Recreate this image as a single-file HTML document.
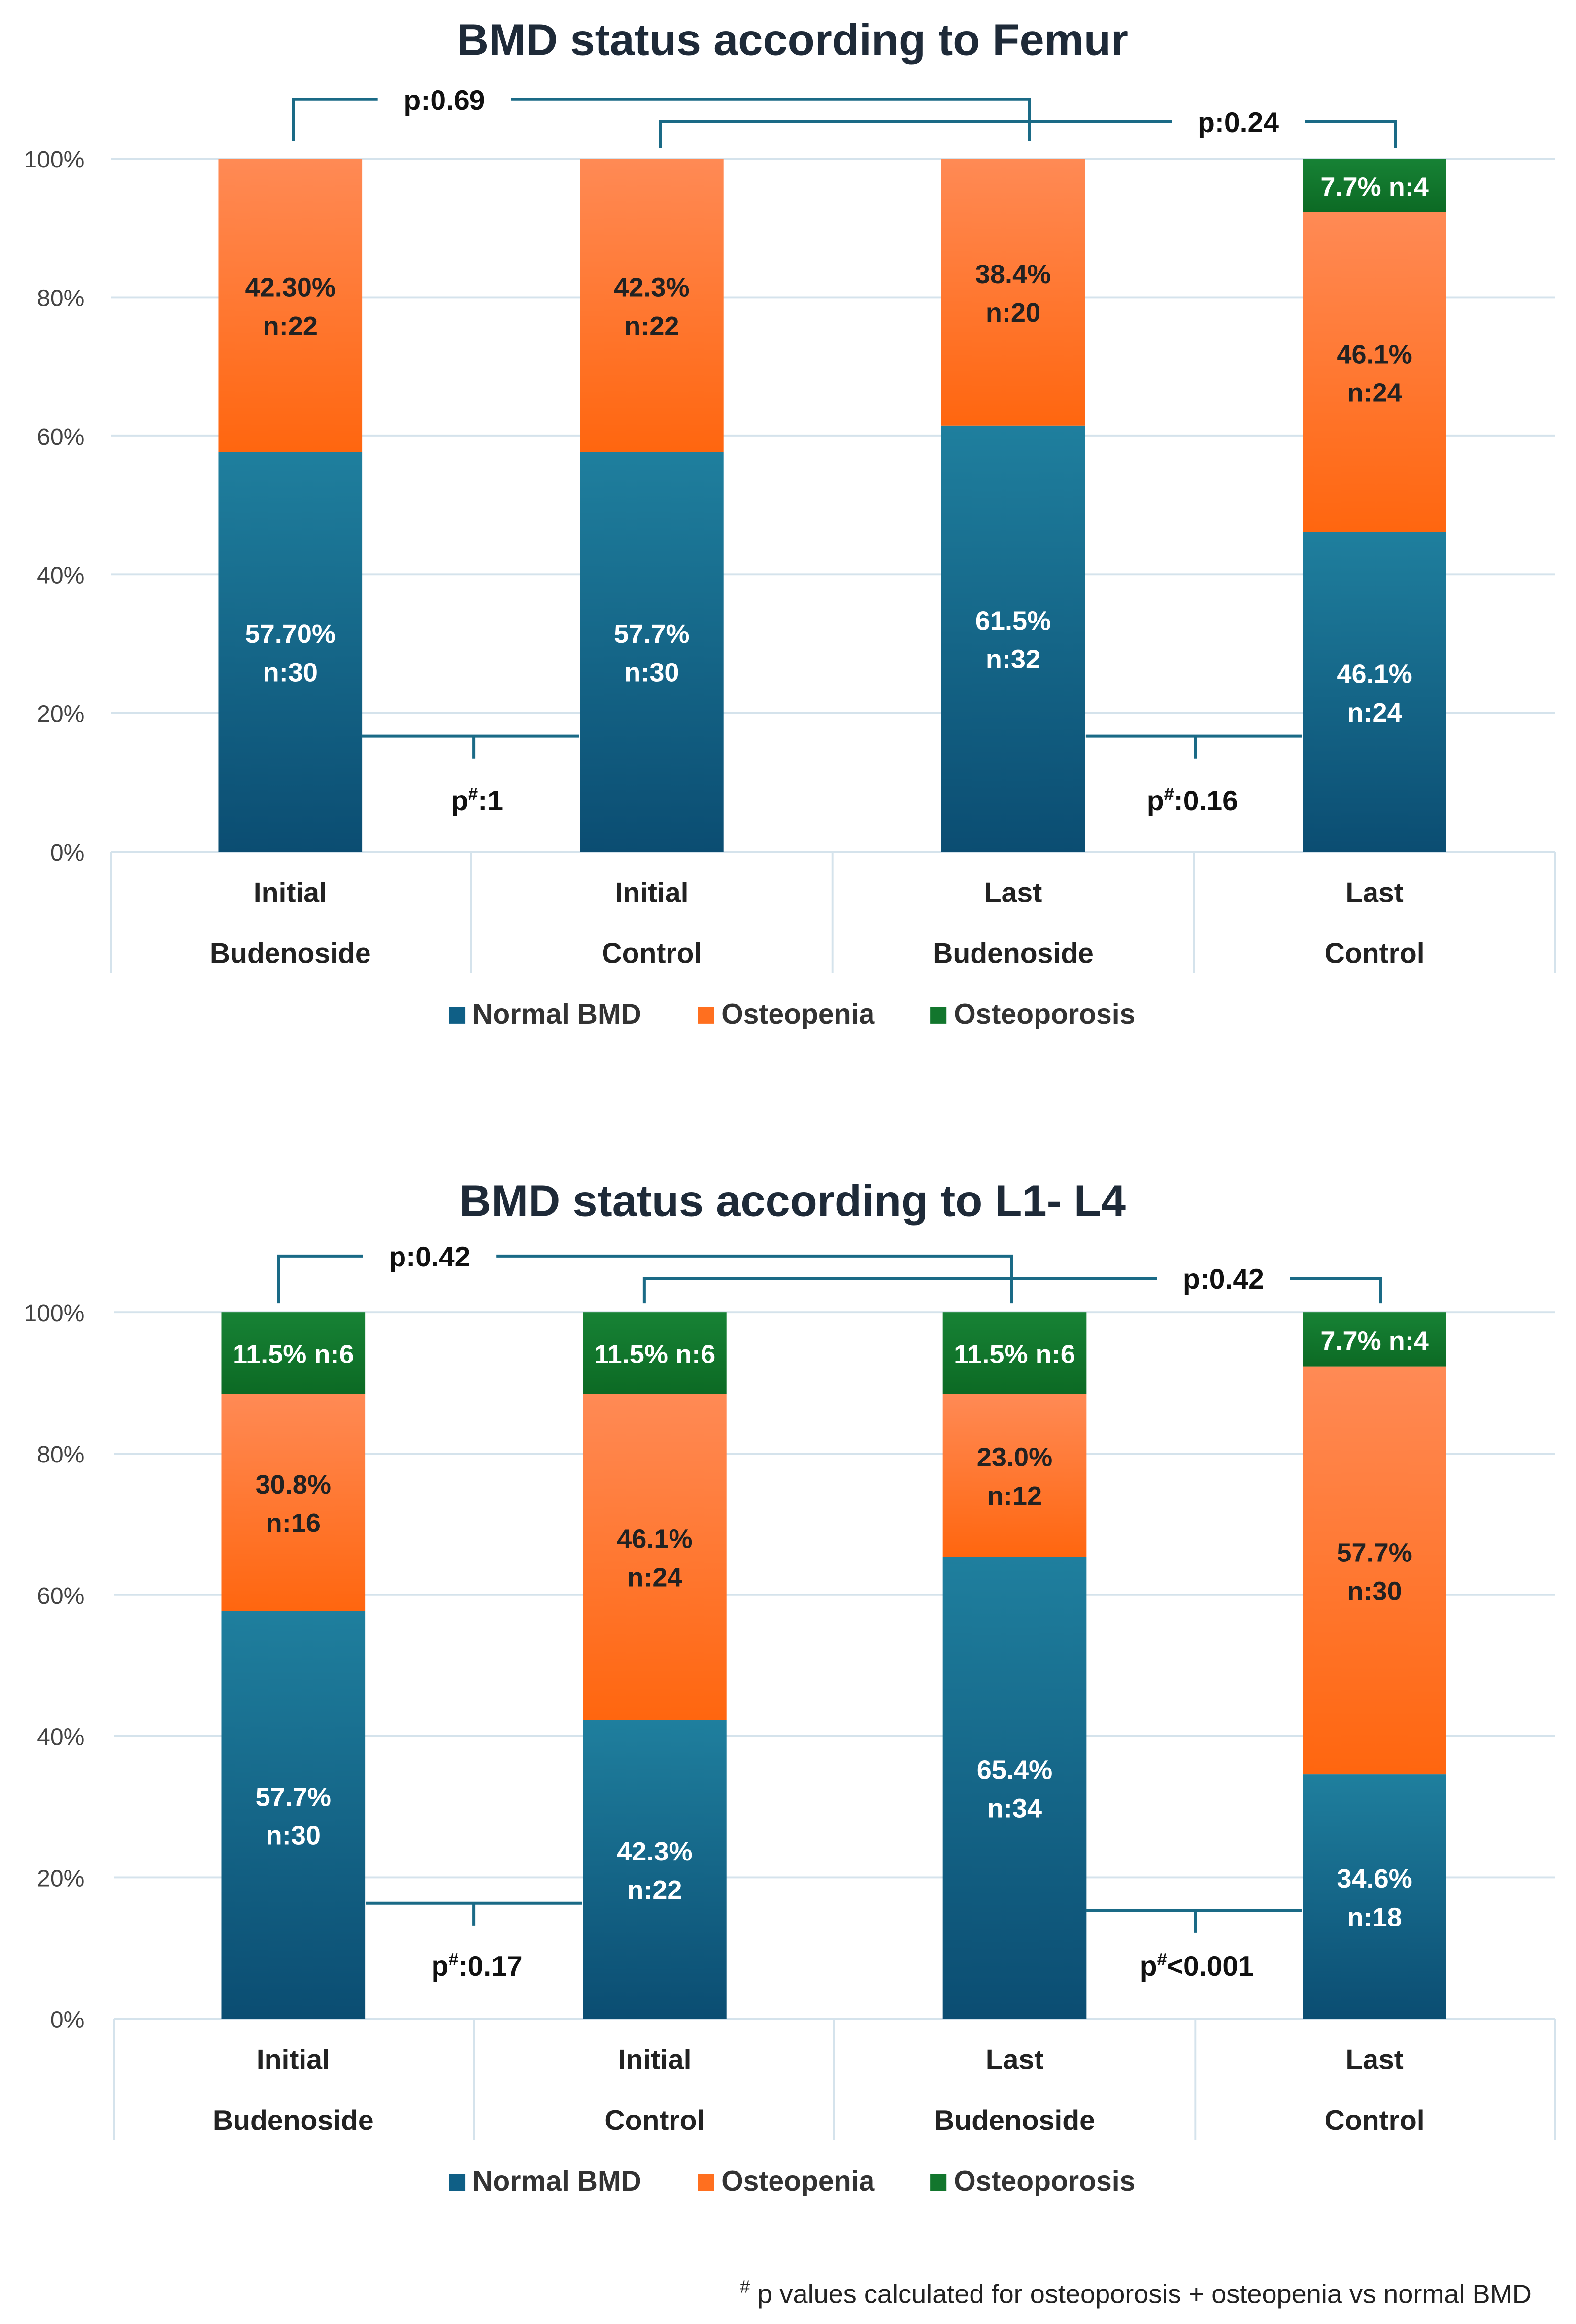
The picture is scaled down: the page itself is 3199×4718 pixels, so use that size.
<!DOCTYPE html>
<html><head><meta charset="utf-8"><style>
html,body{margin:0;padding:0;background:#fff}
svg{display:block}
text{font-family:"Liberation Sans","DejaVu Sans",sans-serif}
</style></head><body>
<svg id="root" width="3199" height="4718" viewBox="0 0 1064 1569" xmlns="http://www.w3.org/2000/svg">
<defs>
<linearGradient id="gBlue" x1="0" y1="0" x2="0" y2="1"><stop offset="0" stop-color="#1f7f9e"/><stop offset="1" stop-color="#0b4d72"/></linearGradient>
<linearGradient id="gOrange" x1="0" y1="0" x2="0" y2="1"><stop offset="0" stop-color="#ff8a55"/><stop offset="1" stop-color="#ff660f"/></linearGradient>
<linearGradient id="gGreen" x1="0" y1="0" x2="0" y2="1"><stop offset="0" stop-color="#178235"/><stop offset="1" stop-color="#0c6a24"/></linearGradient>
</defs>
</svg>
<script>
const categoriesTop = ["Initial","Initial","Last","Last"];
const categoriesBottom = ["Budenoside","Control","Budenoside","Control"];
const yTicks = [0,20,40,60,80,100];
const femurNormal = [57.7,57.7,61.5,46.1];
const femurOsteopenia = [42.3,42.3,38.5,46.2];
const femurOsteoporosis = [0,0,0,7.7];
const femurNormalLabels = [["57.70%","n:30"],["57.7%","n:30"],["61.5%","n:32"],["46.1%","n:24"]];
const femurOsteopeniaLabels = [["42.30%","n:22"],["42.3%","n:22"],["38.4%","n:20"],["46.1%","n:24"]];
const femurOsteoporosisLabels = ["","","","7.7% n:4"];
const lumbarNormal = [57.7,42.3,65.4,34.6];
const lumbarOsteopenia = [30.8,46.2,23.1,57.7];
const lumbarOsteoporosis = [11.5,11.5,11.5,7.7];
const lumbarNormalLabels = [["57.7%","n:30"],["42.3%","n:22"],["65.4%","n:34"],["34.6%","n:18"]];
const lumbarOsteopeniaLabels = [["30.8%","n:16"],["46.1%","n:24"],["23.0%","n:12"],["57.7%","n:30"]];
const lumbarOsteoporosisLabels = ["11.5% n:6","11.5% n:6","11.5% n:6","7.7% n:4"];

const NS="http://www.w3.org/2000/svg";
const root=document.getElementById('root');
function el(tag,attrs,parent,txt){const e=document.createElementNS(NS,tag);for(const k in attrs)e.setAttribute(k,attrs[k]);if(txt!==undefined)e.textContent=txt;(parent||root).appendChild(e);return e;}

function drawChart(o){
  const g=el('g',{});
  
  
  const y=v=>o.y0-(o.y0-o.y100)*v/100;
  const t=el('text',{x:535,y:o.titleY,'text-anchor':'middle','font-size':30,'font-weight':'bold',fill:'#1e2a38'},g,o.title);
  
  
  yTicks.forEach(v=>{
    const l=el('line',{x1:o.xL,x2:1050,y1:y(v),y2:y(v),stroke:'#d5e3ec','stroke-width':1.3},g);
    
    
    const tx=el('text',{x:57,y:y(v)+6,'text-anchor':'end','font-size':16,fill:'#444'},g,v+'%');
    
    
  });
  o.vlines.forEach(x=>{const l=el('line',{x1:x,x2:x,y1:o.y0,y2:o.y0+82,stroke:'#d5e3ec','stroke-width':1.3},g);
    
    });
  const bw=97;
  o.centers.forEach((cx,i)=>{
    const segs=[[o.normal[i],'url(#gBlue)',o.nl[i],'#fff'],[o.osteo[i],'url(#gOrange)',o.ol[i],'#222'],[o.poro[i],'url(#gGreen)',[o.pl[i]],'#fff']];
    let acc=0;
    const names=['bar-normal-bmd','bar-osteopenia','bar-osteoporosis'];
    segs.forEach((s,k)=>{
      if(s[0]<=0)return;
      const top=Math.min(100,acc+s[0]);
      const r=el('rect',{x:cx-bw/2,y:y(top),width:bw,height:y(acc)-y(top),fill:s[1]},g);
      
      
      const mid=(y(acc)+y(top))/2;
      const lines=s[2].filter(a=>a);
      lines.forEach((ln,j)=>{
        const yy=mid+7+(j-(lines.length-1)/2)*26;
        const lt=el('text',{x:cx,y:yy,'text-anchor':'middle','font-size':18,'font-weight':'bold',fill:s[3]},g,ln);
        
        
      });
      acc=top;
    });
    const c1=el('text',{x:cx,y:o.y0+34,'text-anchor':'middle','font-size':19,'font-weight':'bold',fill:'#222'},g,categoriesTop[i]);
    
    
    const c2=el('text',{x:cx,y:o.y0+75,'text-anchor':'middle','font-size':19,'font-weight':'bold',fill:'#222'},g,categoriesBottom[i]);
    
    
  });
  const lg=el('g',{},g);
  
  
  [[303,'#0f5f86','Normal BMD'],[471,'#ff6f1f','Osteopenia'],[628,'#12762d','Osteoporosis']].forEach(a=>{
    const it=el('g',{},lg);
    
    
    el('rect',{x:a[0],y:o.legY-11,width:11,height:11,fill:a[1]},it);
    el('text',{x:a[0]+16,y:o.legY,'font-size':19,'font-weight':'bold',fill:'#333'},it,a[2]);
  });
  const bc='#1a6a86';
  o.topBr.forEach(b=>{
    const p=el('path',{d:`M${b.x1},${b.y2} V${b.y1} H${b.tx-45} M${b.tx+45},${b.y1} H${b.x2} V${b.y2}`,fill:'none',stroke:bc,'stroke-width':2},g);
    
    
    const tt=el('text',{x:b.tx,y:b.y1+7,'text-anchor':'middle','font-size':19,'font-weight':'bold',fill:'#111'},g,b.label);
    
    
  });
  o.botBr.forEach(b=>{
    const p=el('path',{d:`M${b.x1},${b.y} H${b.x2} M${b.xm},${b.y} V${b.y+15}`,fill:'none',stroke:bc,'stroke-width':2},g);
    
    
    const tt=el('text',{x:b.tx,y:b.ty,'text-anchor':'middle','font-size':19,'font-weight':'bold',fill:'#111'},g);
    
    
    el('tspan',{},tt,'p');el('tspan',{dy:-7,'font-size':12},tt,'#');el('tspan',{dy:7},tt,b.label);
  });
}

drawChart({name:'femur-chart',title:'BMD status  according to Femur',titleY:37,y0:575,y100:107,xL:75,
  vlines:[75,318,562,806,1050],centers:[196,440,684,928],
  normal:femurNormal,osteo:femurOsteopenia,poro:femurOsteoporosis,
  nl:femurNormalLabels,ol:femurOsteopeniaLabels,pl:femurOsteoporosisLabels,legY:691,
  topBr:[{x1:198,x2:695,y1:67,y2:95,tx:300,label:'p:0.69'},{x1:446,x2:942,y1:82,y2:100,tx:836,label:'p:0.24'}],
  botBr:[{x1:244,x2:391,y:497,xm:320,tx:322,ty:547,label:':1'},{x1:733,x2:879,y:497,xm:807,tx:805,ty:547,label:':0.16'}]});

drawChart({name:'lumbar-chart',title:'BMD status according to L1- L4',titleY:821,y0:1363,y100:886,xL:77,
  vlines:[77,320,563,807,1050],centers:[198,442,685,928],
  normal:lumbarNormal,osteo:lumbarOsteopenia,poro:lumbarOsteoporosis,
  nl:lumbarNormalLabels,ol:lumbarOsteopeniaLabels,pl:lumbarOsteoporosisLabels,legY:1479,
  topBr:[{x1:188,x2:683,y1:848,y2:880,tx:290,label:'p:0.42'},{x1:435,x2:932,y1:863,y2:880,tx:826,label:'p:0.42'}],
  botBr:[{x1:247,x2:393,y:1285,xm:320,tx:322,ty:1334,label:':0.17'},{x1:733,x2:879,y:1290,xm:807,tx:808,ty:1334,label:'<0.001'}]});

const fn=el('text',{x:1034,y:1555,'text-anchor':'end','font-size':18,fill:'#222'});


el('tspan',{'font-size':12,dy:-7},fn,'#');
el('tspan',{dy:7},fn,'  p values calculated for osteoporosis + osteopenia vs normal BMD');
</script>
</body></html>
